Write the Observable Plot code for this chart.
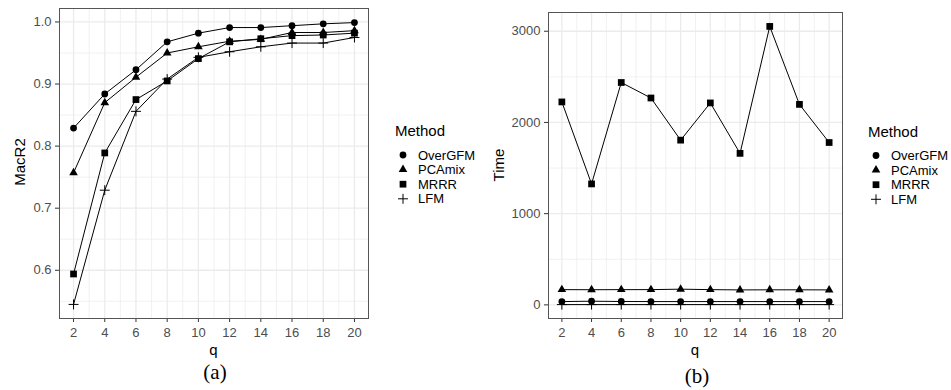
<!DOCTYPE html>
<html><head><meta charset="utf-8">
<script src="https://cdn.jsdelivr.net/npm/d3@7"></script>
<script src="https://cdn.jsdelivr.net/npm/@observablehq/plot@0.6"></script>
<style>
body{margin:0;background:#fff;}
#root{position:relative;width:951px;height:390px;overflow:hidden;background:#fff;font-family:"Liberation Sans",Arial,sans-serif;}
#root > svg{position:absolute;top:0;}
</style></head><body><div id="root"></div>
<script>
// ---- data ----
const q = [2, 4, 6, 8, 10, 12, 14, 16, 18, 20];
const methods = ["OverGFM", "PCAmix", "MRRR", "LFM"];
const macr2OverGFM = [0.829, 0.884, 0.923, 0.968, 0.982, 0.991, 0.991, 0.994, 0.997, 0.999];
const macr2PCAmix  = [0.757, 0.870, 0.911, 0.950, 0.960, 0.969, 0.972, 0.983, 0.983, 0.986];
const macr2MRRR    = [0.594, 0.789, 0.875, 0.905, 0.941, 0.968, 0.973, 0.978, 0.979, 0.982];
const macr2LFM     = [0.545, 0.729, 0.856, 0.908, 0.943, 0.952, 0.960, 0.966, 0.966, 0.975];
const timeOverGFM = [36, 40, 37, 36, 36, 36, 36, 36, 36, 36];
const timePCAmix  = [167, 166, 167, 167, 172, 167, 164, 165, 165, 164];
const timeMRRR    = [2225, 1326, 2438, 2268, 1806, 2214, 1661, 3053, 2198, 1780];
const timeLFM     = [3, 3, 3, 3, 3, 3, 3, 3, 3, 3];
const xTicks = [2, 4, 6, 8, 10, 12, 14, 16, 18, 20];
const xMinor = [3, 5, 7, 9, 11, 13, 15, 17, 19];
const macr2Ticks = [0.6, 0.7, 0.8, 0.9, 1.0];
const macr2Minor = [0.55, 0.65, 0.75, 0.85, 0.95];
const timeTicks = [0, 1000, 2000, 3000];
const timeMinor = [500, 1500, 2500];

const symbolOf = {OverGFM: "circle", PCAmix: "triangle", MRRR: "square", LFM: "plus"};
const rOf = {OverGFM: 3.4, PCAmix: 3.2, MRRR: 3.8, LFM: 3.3};

function rows(byMethod) {
  return methods.flatMap(m => q.map((qq, i) => ({q: qq, value: byMethod[m][i], method: m})));
}
const dataA = rows({OverGFM: macr2OverGFM, PCAmix: macr2PCAmix, MRRR: macr2MRRR, LFM: macr2LFM});
const dataB = rows({OverGFM: timeOverGFM, PCAmix: timePCAmix, MRRR: timeMRRR, LFM: timeLFM});

const root = document.getElementById("root");

function panel({data, yTicks, yMinor, yFmt, left, width, mLeft, mTop}) {
  const vals = data.map(d => d.value);
  const lo = d3.min(vals), hi = d3.max(vals), pad = (hi - lo) * 0.05;
  const xpad = (d3.max(q) - d3.min(q)) * 0.05;
  const grid = "#EBEBEB";
  const marks = [
    Plot.gridX(xMinor, {stroke: grid, strokeOpacity: 1, strokeWidth: 0.7}),
    Plot.gridY(yMinor, {stroke: grid, strokeOpacity: 1, strokeWidth: 0.7}),
    Plot.gridX(xTicks, {stroke: grid, strokeOpacity: 1, strokeWidth: 1.3}),
    Plot.gridY(yTicks, {stroke: grid, strokeOpacity: 1, strokeWidth: 1.3}),
    Plot.axisX(xTicks, {tickSize: 4, tickPadding: 5, fontSize: 13, fill: "#4D4D4D", stroke: "#333", label: null}),
    Plot.axisY(yTicks, {tickSize: 4, tickPadding: 4, fontSize: 13, fill: "#4D4D4D", stroke: "#333", tickFormat: yFmt, label: null}),
    Plot.line(data, {x: "q", y: "value", z: "method", stroke: "black", strokeWidth: 1})
  ];
  for (const m of methods) {
    const sub = data.filter(d => d.method === m);
    if (symbolOf[m] === "plus") {
      marks.push(Plot.dot(sub, {x: "q", y: "value", symbol: "plus", r: rOf[m], stroke: "black", strokeWidth: 1, fill: "none"}));
    } else {
      marks.push(Plot.dot(sub, {x: "q", y: "value", symbol: symbolOf[m], r: rOf[m], fill: "black", stroke: "none"}));
    }
  }
  marks.push(Plot.frame({stroke: "#555", strokeWidth: 1}));
  const svg = Plot.plot({
    width, height: 345,
    marginLeft: mLeft, marginRight: 2, marginTop: mTop, marginBottom: 27,
    x: {domain: [d3.min(q) - xpad, d3.max(q) + xpad]},
    y: {domain: [lo - pad, hi + pad]},
    style: {fontFamily: "'Liberation Sans', Arial, sans-serif", fontSize: "13px", background: "transparent", overflow: "visible"},
    marks
  });
  svg.style.left = left + "px";
  root.appendChild(svg);
}

panel({data: dataA, yTicks: macr2Ticks, yMinor: macr2Minor, yFmt: d3.format(".1f"), left: 0, width: 370, mLeft: 59, mTop: 8});
panel({data: dataB, yTicks: timeTicks, yMinor: timeMinor, yFmt: d3.format("d"), left: 488, width: 356, mLeft: 60, mTop: 12});

// ---- overlay: titles, legends, captions ----
const ov = d3.select(root).append("svg").attr("width", 951).attr("height", 390)
  .style("left", "0px").style("pointer-events", "none")
  .attr("font-family", "'Liberation Sans', Arial, sans-serif");

function axisTitles(yLabel, yx, yy, qx) {
  ov.append("text").attr("transform", `translate(${yx},${yy}) rotate(-90)`).attr("text-anchor", "middle")
    .attr("font-size", 15).attr("fill", "black").text(yLabel);
  ov.append("text").attr("x", qx).attr("y", 354.5).attr("text-anchor", "middle")
    .attr("font-size", 15).attr("fill", "black").text("q");
}
axisTitles("MacR2", 25, 162, 213.5);
axisTitles("Time", 503.5, 165, 695);

const d3sym = {circle: d3.symbolCircle, triangle: d3.symbolTriangle, square: d3.symbolSquare, plus: d3.symbolPlus};
function legend(x0, yTitle, yItems) {
  ov.append("text").attr("x", x0).attr("y", yTitle).attr("font-size", 15).attr("fill", "black").text("Method");
  methods.forEach((m, i) => {
    const y = yItems + i * 14.6;
    const s = symbolOf[m];
    const p = ov.append("path").attr("transform", `translate(${x0 + 8},${y})`)
      .attr("d", d3.symbol(d3sym[s], Math.PI * rOf[m] * rOf[m])());
    if (s === "plus") p.attr("fill", "none").attr("stroke", "black").attr("stroke-width", 1);
    else p.attr("fill", "black");
    ov.append("text").attr("x", x0 + 23).attr("y", y + 4.6).attr("font-size", 13).attr("fill", "black").text(m);
  });
}
legend(395, 136, 155);
legend(868, 137, 155.5);

ov.append("text").attr("x", 215).attr("y", 379).attr("text-anchor", "middle")
  .attr("font-family", "'Liberation Serif', 'Times New Roman', serif").attr("font-size", 21).text("(a)");
ov.append("text").attr("x", 697).attr("y", 383).attr("text-anchor", "middle")
  .attr("font-family", "'Liberation Serif', 'Times New Roman', serif").attr("font-size", 21).text("(b)");
</script></body></html>
